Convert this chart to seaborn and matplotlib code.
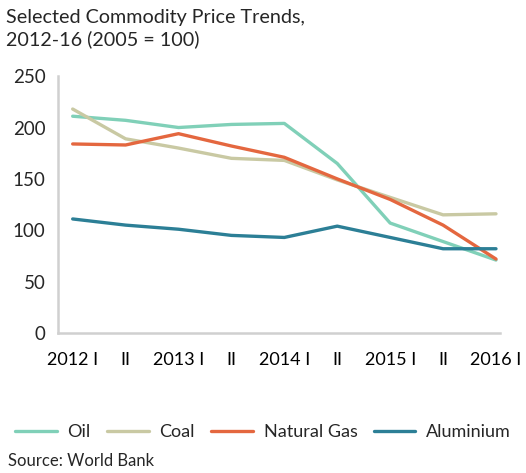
import numpy as np
import pandas as pd
import seaborn as sns
import matplotlib.pyplot as plt

# half-year periods, 2012 I .. 2016 I
periods = ["2012 I", "II", "2013 I", "II", "2014 I", "II", "2015 I", "II", "2016 I"]
oil = [211, 207, 200, 203, 204, 165, 107, 89, 71]
coal = [218, 189, 180, 170, 168, 149, 132, 115, 116]
natural_gas = [184, 183, 194, 182, 171, 150, 130, 105, 72]
aluminium = [111, 105, 101, 95, 93, 104, 93, 82, 82]

series = ["Oil", "Coal", "Natural Gas", "Aluminium"]
colors = ["#80d0b8", "#c9c9a3", "#e4673f", "#2c7f96"]

df = pd.DataFrame({
    "x": list(range(len(periods))) * 4,
    "value": oil + coal + natural_gas + aluminium,
    "series": np.repeat(series, len(periods)),
})

sns.set_style("white")
plt.rcParams["font.family"] = ["Lato", "DejaVu Sans"]

fig = plt.figure(figsize=(5.26, 4.73), dpi=100)
ax = fig.add_axes([0.110, 0.296, 0.841, 0.543])

sns.lineplot(data=df, x="x", y="value", hue="series", hue_order=series,
             palette=colors, linewidth=2.4, ax=ax, legend=True)

ax.set_ylim(0, 250)
ax.set_xlim(-0.28, 8.08)
ax.set_yticks(range(0, 251, 50))
ax.set_xticks(range(len(periods)))
ax.set_xticklabels(periods)
ax.set_xticks([-0.28, 1, 2, 3, 4, 5, 6, 7, 8.08], minor=True)
ax.tick_params(axis="x", which="major", length=0, pad=14, labelsize=13, colors="black")
ax.tick_params(axis="x", which="minor", length=6, width=1.5, color="#d0d0d0", direction="out")
ax.tick_params(axis="y", length=5, width=1.5, color="#d0d0d0", direction="out", labelsize=13.5, pad=4)
ax.set_xlabel("")
ax.set_ylabel("")

for side in ["top", "right"]:
    ax.spines[side].set_visible(False)
for side in ["left", "bottom"]:
    ax.spines[side].set_color("#d0d0d0")
    ax.spines[side].set_linewidth(1.8)

handles, labels = ax.get_legend_handles_labels()
ax.legend(handles, labels, loc="center", bbox_to_anchor=(0.5, 0.0865), bbox_transform=fig.transFigure,
          ncol=4, frameon=False, fontsize=13, handlelength=2.3, columnspacing=0.9, handletextpad=0.6)

fig.text(0.012, 0.982, "Selected Commodity Price Trends,\n2012-16 (2005 = 100)",
         ha="left", va="top", fontsize=14.2, linespacing=1.35)
fig.text(0.015, 0.008, "Source: World Bank", ha="left", va="bottom", fontsize=12)

fig.savefig("out.png", dpi=100)
